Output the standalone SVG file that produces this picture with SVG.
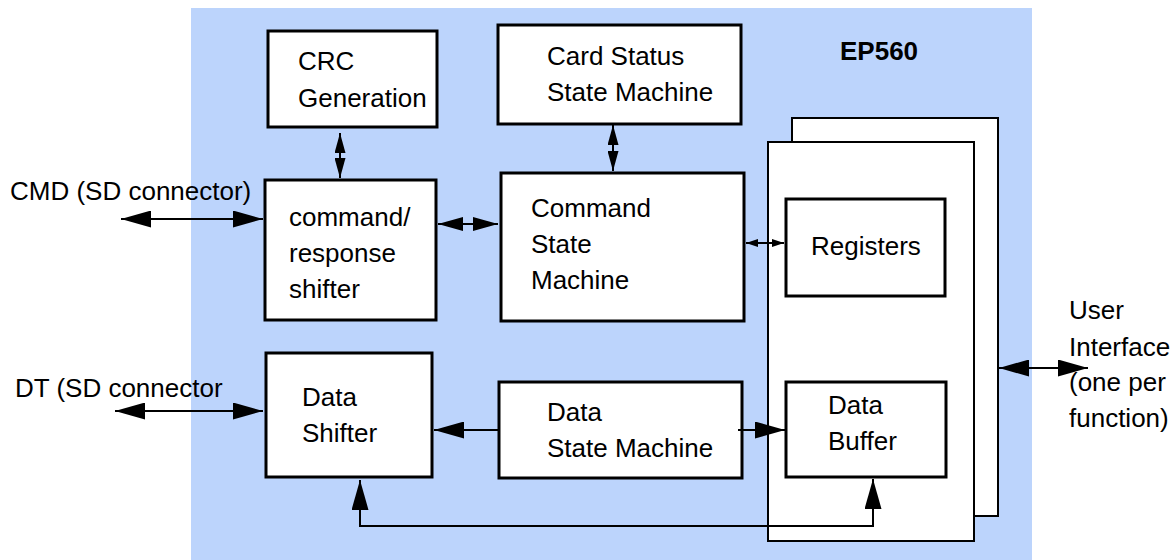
<svg xmlns="http://www.w3.org/2000/svg" width="1176" height="560" viewBox="0 0 1176 560">
<style>
.box{fill:#fff;stroke:#000;stroke-width:3}
.stack{fill:#fff;stroke:#000;stroke-width:2}
.t{font-family:"Liberation Sans",Arial,sans-serif;font-size:26px;fill:#000}
.b{font-family:"Liberation Sans",Arial,sans-serif;font-size:26px;font-weight:bold;fill:#000}
.ln{fill:none;stroke:#000;stroke-width:2}
</style>
<defs>
<marker id="big" markerUnits="userSpaceOnUse" markerWidth="30" markerHeight="17" refX="30" refY="8.5" orient="auto-start-reverse"><path d="M0,0 L30,8.5 L0,17 z" fill="#000"/></marker>
<marker id="mid" markerUnits="userSpaceOnUse" markerWidth="25" markerHeight="14" refX="25" refY="7" orient="auto-start-reverse"><path d="M0,0 L25,7 L0,14 z" fill="#000"/></marker>
<marker id="vert" markerUnits="userSpaceOnUse" markerWidth="20" markerHeight="11" refX="20" refY="5.5" orient="auto-start-reverse"><path d="M0,0 L20,5.5 L0,11 z" fill="#000"/></marker>
<marker id="small" markerUnits="userSpaceOnUse" markerWidth="12" markerHeight="8" refX="12" refY="4" orient="auto-start-reverse"><path d="M0,0 L12,4 L0,8 z" fill="#000"/></marker>
</defs>
<rect x="191" y="8" width="841" height="552" fill="#bcd4fc"/>
<text class="b" x="840" y="60">EP560</text>
<g id="stack-back"><rect class="stack" x="792" y="118" width="206" height="398"/></g>
<g id="stack-front"><rect class="stack" x="768" y="142" width="206" height="399"/></g>
<g id="crc"><rect class="box" x="268" y="31" width="169" height="96"/>
<text class="t" x="298" y="70">CRC</text><text class="t" x="298" y="107">Generation</text></g>
<g id="cardstatus"><rect class="box" x="498" y="25" width="243" height="99"/>
<text class="t" x="547" y="65">Card Status</text><text class="t" x="547" y="101">State Machine</text></g>
<g id="cmdshifter"><rect class="box" x="265" y="180" width="171" height="140"/>
<text class="t" x="289" y="226">command/</text><text class="t" x="289" y="262">response</text><text class="t" x="289" y="298">shifter</text></g>
<g id="cmdsm"><rect class="box" x="501" y="173" width="243" height="148"/>
<text class="t" x="531" y="217">Command</text><text class="t" x="531" y="253">State</text><text class="t" x="531" y="289">Machine</text></g>
<g id="registers"><rect class="box" x="786" y="199" width="159" height="97"/>
<text class="t" x="811" y="255">Registers</text></g>
<g id="datashifter"><rect class="box" x="266" y="353" width="166" height="124"/>
<text class="t" x="302" y="406">Data</text><text class="t" x="302" y="442">Shifter</text></g>
<g id="datasm"><rect class="box" x="499" y="382" width="243" height="96"/>
<text class="t" x="547" y="421">Data</text><text class="t" x="547" y="457">State Machine</text></g>
<g id="databuffer"><rect class="box" x="786" y="382" width="160" height="95"/>
<text class="t" x="828" y="414">Data</text><text class="t" x="828" y="450">Buffer</text></g>
<g id="labels">
<text class="t" x="10" y="200">CMD (SD connector)</text>
<text class="t" x="15" y="397">DT (SD connector</text>
<text class="t" x="1069" y="319">User</text>
<text class="t" x="1069" y="356">Interface</text>
<text class="t" x="1069" y="391">(one per</text>
<text class="t" x="1069" y="427">function)</text>
</g>
<g id="connectors">
<line class="ln" x1="121" y1="219" x2="263" y2="219" marker-start="url(#big)" marker-end="url(#big)"/>
<line class="ln" x1="115" y1="411" x2="263" y2="411" marker-start="url(#big)" marker-end="url(#big)"/>
<line class="ln" x1="999" y1="368" x2="1088" y2="368" marker-start="url(#big)" marker-end="url(#big)"/>
<line class="ln" x1="340" y1="133" x2="340" y2="178" marker-start="url(#vert)" marker-end="url(#vert)"/>
<line class="ln" x1="613" y1="125" x2="613" y2="171" marker-start="url(#vert)" marker-end="url(#vert)"/>
<line class="ln" x1="438" y1="224" x2="498" y2="224" marker-start="url(#mid)" marker-end="url(#mid)"/>
<line class="ln" x1="746" y1="243" x2="784" y2="243" marker-start="url(#small)" marker-end="url(#small)"/>
<line class="ln" x1="499" y1="430" x2="434" y2="430" marker-end="url(#big)"/>
<line class="ln" x1="738" y1="430" x2="785" y2="430" marker-end="url(#big)"/>
<path class="ln" d="M360,480 L360,526 L873,526 L873,479" marker-start="url(#big)" marker-end="url(#big)"/>
</g>
</svg>
